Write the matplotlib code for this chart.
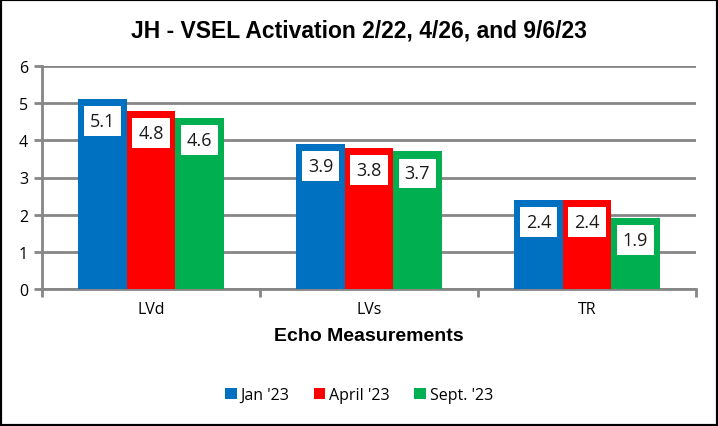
import numpy as np
import matplotlib.pyplot as plt
from matplotlib.patches import Rectangle

categorias = ['LVd', 'LVs', 'TR']
series = ["Jan '23", "April '23", "Sept. '23"]
valores = {
    "Jan '23": [5.1, 3.9, 2.4],
    "April '23": [4.8, 3.8, 2.4],
    "Sept. '23": [4.6, 3.7, 1.9],
}
colores = ['#0070c0', '#ff0000', '#00b050']

fig = plt.figure(figsize=(7.18, 4.27), dpi=100)
ax = fig.add_axes([42/718, 1 - 290/427, 654/718, 223/427])

x = np.arange(len(categorias))
ancho = 0.222
gris = '#868686'

for i, (s, c) in enumerate(zip(series, colores)):
    pos = x + (i - 1) * ancho
    ax.bar(pos, valores[s], width=ancho, color=c, label=s, zorder=3)
    for px, v in zip(pos, valores[s]):
        ax.annotate(f'{v:.1f}', (px, v), xytext=(0, -22), textcoords='offset pixels',
                    ha='center', va='center', fontsize=13, family='Open Sans',
                    color='#1a1a1a', zorder=5,
                    bbox=dict(boxstyle='square,pad=0.33', fc='white', ec='none'))

ax.set_xlim(-0.5, 2.5)
ax.set_ylim(0, 6)
ax.set_yticks(range(0, 7))
ax.yaxis.grid(True, color=gris, linewidth=2, zorder=0)
ax.set_xticks(x)
ax.set_xticklabels(categorias, fontsize=11.5, family='Open Sans')
ax.set_xticks([-0.5, 0.5, 1.5, 2.5], minor=True)
ax.tick_params(axis='x', which='major', length=0, pad=9)
ax.tick_params(axis='x', which='minor', length=6, width=2, color=gris)
ax.tick_params(axis='y', length=6, width=2, color=gris, labelsize=11.5, pad=4)
for t in ax.get_yticklabels():
    t.set_family('Open Sans')

for lado in ['top', 'right']:
    ax.spines[lado].set_visible(False)
for lado in ['left', 'bottom']:
    ax.spines[lado].set_color(gris)
    ax.spines[lado].set_linewidth(2)

ax.set_xlabel('Echo Measurements', fontsize=14, fontweight='bold',
              family='Liberation Sans', labelpad=7)

fig.text(0.5, 1 - 31/427, 'JH - VSEL Activation 2/22, 4/26, and 9/6/23',
         ha='center', va='center', fontsize=16.5, fontweight='bold',
         family='Liberation Sans')

leg = fig.legend(loc='center', bbox_to_anchor=(0.5, 1 - 396/427), ncol=3,
                 frameon=False, handlelength=0.75, handleheight=0.75,
                 handletextpad=0.25, columnspacing=1.5,
                 prop={'family': 'Open Sans', 'size': 11.5})

fig.patches.append(Rectangle((0, 0), 1, 1, transform=fig.transFigure,
                             fill=False, ec='black', lw=3))

fig.savefig('out.png', dpi=100)
